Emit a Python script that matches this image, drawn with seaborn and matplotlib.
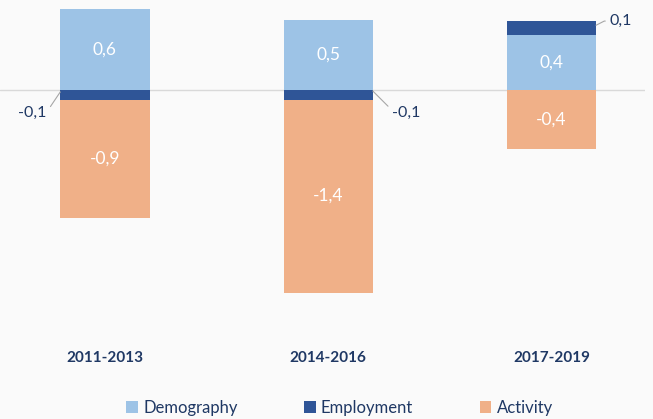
import numpy as np
import matplotlib.pyplot as plt
from matplotlib.patches import Patch
import seaborn as sns

periods = ['2011-2013', '2014-2016', '2017-2019']
series = ['Demography', 'Employment', 'Activity']
demography = [0.60, 0.52, 0.41]
employment = [-0.07, -0.07, 0.10]
activity = [-0.88, -1.43, -0.44]

colors = ['#9dc3e6', '#2f5597', '#f0b088']
navy = '#1f3864'
bg = '#fafafa'

sns.set_theme(style='white')
plt.rcParams['font.family'] = ['Lato', 'DejaVu Sans']

fig = plt.figure(figsize=(6.53, 4.19), dpi=100, facecolor=bg)
ax = fig.add_axes([0, 0.212, 0.988, 0.788])
ax.set_facecolor(bg)

width = 0.4
pos_base = np.zeros(len(periods))
neg_base = np.zeros(len(periods))
segments = []
for name, vals, col in zip(series, [demography, employment, activity], colors):
    vals = np.array(vals)
    bottom = np.where(vals >= 0, pos_base, neg_base)
    sns.barplot(x=periods, y=vals, bottom=bottom, color=col, width=width,
                saturation=1, errorbar=None, linewidth=0, ax=ax)
    segments.append((vals, bottom))
    pos_base = pos_base + np.clip(vals, 0, None)
    neg_base = neg_base + np.clip(vals, None, 0)

ax.axhline(0, color='#d9d9d9', lw=1, zorder=0)


def fmt(v):
    return f'{v:.1f}'.replace('.', ',')


# small labels go outside with a leader line: (side, offset in points, line angle, anchor frac)
outside = {0: ('left', (-10, -15), 56, 0.2), 1: ('right', (14, -16), -45, 0.1), 2: ('right', (10, 3), 27, 0.7)}

for vals, bottom in segments:
    for i, (v, b) in enumerate(zip(vals, bottom)):
        if abs(v) >= 0.2:
            ax.text(i, b + v / 2, fmt(v), color='white', ha='center', va='center', fontsize=12.5)
        else:
            side, off, ang, frac = outside[i]
            x0 = i - width / 2 if side == 'left' else i + width / 2
            ax.annotate(fmt(v), xy=(x0, b + v * frac), xytext=off, textcoords='offset points',
                        ha='right' if side == 'left' else 'left', va='center',
                        fontsize=11.5, color=navy,
                        arrowprops=dict(arrowstyle='-', color='#a6a6a6', lw=0.8,
                                        shrinkA=1, shrinkB=0,
                                        connectionstyle=f'angle,angleA=0,angleB={ang},rad=0'))

ax.set_xlim(-0.47, 2.42)
ax.set_ylim(-1.778, 0.667)
ax.set_yticks([])
ax.set_xticks(range(len(periods)))
ax.set_xticklabels(periods, fontsize=11, fontweight='bold', color=navy)
ax.tick_params(axis='x', length=0, pad=15)
ax.set_xlabel('')
sns.despine(ax=ax, left=True, bottom=True)

handles = [Patch(facecolor=c, edgecolor='none') for c in colors]
fig.legend(handles, series, loc='center', bbox_to_anchor=(0.52, 0.026), ncol=3,
           frameon=False, handlelength=0.7, handleheight=0.7, handletextpad=0.3,
           columnspacing=4, fontsize=12, labelcolor=navy)

fig.savefig('out.png', dpi=100, facecolor=bg)
